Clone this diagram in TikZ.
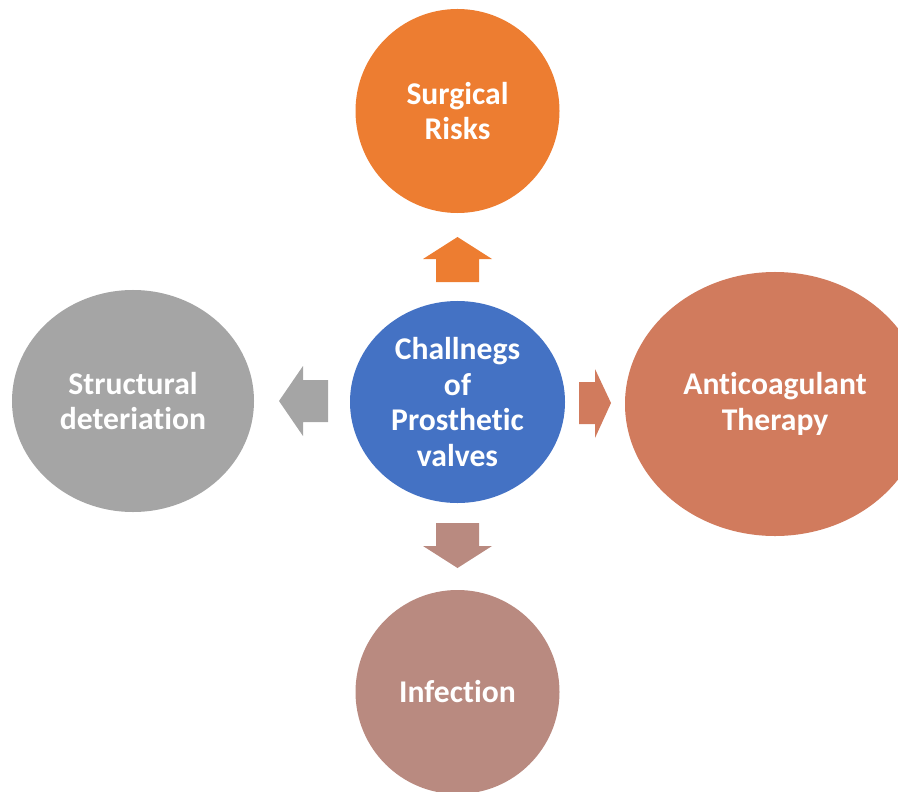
\documentclass[tikz,border=0pt]{standalone}
\usepackage{fontspec}
\setmainfont{Carlito}[Ligatures=NoCommon]
\usetikzlibrary{shapes.geometric}
\definecolor{blue1}{HTML}{4472C4}
\definecolor{orange1}{HTML}{ED7D31}
\definecolor{gray1}{HTML}{A5A5A5}
\definecolor{salmon1}{HTML}{D17B5D}
\definecolor{rose1}{HTML}{B98A80}
\tikzset{
  bubble/.style={ellipse, inner sep=0pt, align=center, text=white,
    font=\fontsize{27}{30.3}\selectfont\bfseries},
}

\begin{document}
\begin{tikzpicture}[x=0.03cm,y=-0.03cm]
      \clip (0,0) rectangle (898,792);

      % the four outer bubbles and the core
      \node [bubble, fill=blue1, minimum width=6.45cm, minimum height=6.06cm] (core) at (457.5,402) {Challnegs\\of\\Prosthetic\\valves};
      \node [bubble, fill=orange1, minimum width=6.12cm, minimum height=6.12cm] (surgical) at (457.5,111) {Surgical\\Risks};
      \node [bubble, fill=salmon1, minimum width=9cm, minimum height=7.92cm] (anticoag) at (775,404) {Anticoagulant\\Therapy};
      \node [bubble, fill=rose1, minimum width=6.12cm, minimum height=6.12cm] (infection) at (457.5,692) {Infection};
      \node [bubble, fill=gray1, minimum width=7.26cm, minimum height=6.66cm] (structural) at (133,401) {Structural\\deteriation};

      % block arrows
      \fill [fill=orange1] (436,282) -- (436,259) -- (423,259) -- (457.5,237) -- (492,259) -- (479,259) -- (479,282) -- cycle;
      \fill [fill=rose1] (436,523) -- (436,546) -- (423,546) -- (457.5,568) -- (492,546) -- (479,546) -- (479,523) -- cycle;
      \fill [fill=gray1] (328,380) -- (303,380) -- (303,366) -- (279,401) -- (303,436) -- (303,422) -- (328,422) -- cycle;
      \fill [fill=salmon1] (579,382) -- (595,382) -- (595,369) -- (611,403) -- (595,438) -- (595,424) -- (579,424) -- cycle;
    \end{tikzpicture}
\end{document}
